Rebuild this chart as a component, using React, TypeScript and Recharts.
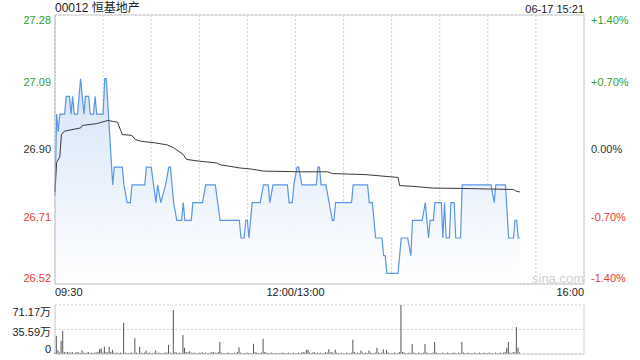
import {
  ComposedChart,
  Area,
  Line,
  XAxis,
  YAxis,
  CartesianGrid,
  ReferenceLine,
  BarChart,
  Bar,
} from "recharts";

// minutes after 09:30 (lunch break removed), 330 = 16:00
const gridMinutes = [0, 30, 60, 90, 120, 150, 180, 210, 240, 270, 300, 330];
const timeLabels: Record<number, string> = { 0: "09:30", 150: "12:00/13:00", 330: "16:00" };

const priceTicks = [27.28, 27.09, 26.9, 26.71, 26.52];
const pctLabels = ["+1.40%", "+0.70%", "0.00%", "-0.70%", "-1.40%"];
const tickColors = ["#2ea12e", "#2ea12e", "#333333", "#e53935", "#e53935"];

// price polyline vertices
const priceMinutes = [
  0, 1, 2, 3, 6, 7, 9, 10, 11, 12, 14, 15, 16, 17, 18, 19, 21, 22, 24, 25, 26, 30, 31, 32,
  36, 37, 42, 43, 45, 47, 48, 56, 57, 60, 63, 64, 66, 69, 71, 72, 74, 76, 79, 80, 81, 85,
  86, 92, 94, 100, 103, 115, 116, 118, 119, 120, 121, 123, 128, 130, 133, 134, 136, 145,
  146, 148, 149, 151, 152, 154, 163, 164, 165, 166, 169, 171, 173, 174, 175, 185, 186, 195,
  196, 198, 200, 204, 205, 206, 207, 214, 216, 220, 222, 223, 229, 231, 233, 234, 236, 237,
  241, 242, 243, 244, 246, 247, 249, 250, 253, 254, 272, 274, 275, 281, 283, 286, 287, 288,
  289, 290,
];
const prices = [
  26.77, 27.0, 26.95, 27.0, 27.0, 27.05, 27.05, 27.0, 27.05, 27.0, 27.0, 27.05, 27.1, 27.05,
  27.0, 27.05, 27.05, 27.0, 27.0, 27.05, 27.0, 27.0, 27.1, 27.1, 26.8, 26.85, 26.85, 26.8,
  26.75, 26.75, 26.8, 26.8, 26.85, 26.85, 26.75, 26.8, 26.75, 26.8, 26.85, 26.85, 26.75,
  26.7, 26.7, 26.75, 26.7, 26.7, 26.75, 26.75, 26.8, 26.8, 26.7, 26.7, 26.65, 26.65, 26.7,
  26.7, 26.65, 26.75, 26.75, 26.8, 26.8, 26.75, 26.8, 26.8, 26.75, 26.75, 26.8, 26.85, 26.85,
  26.8, 26.8, 26.85, 26.85, 26.8, 26.8, 26.75, 26.7, 26.7, 26.75, 26.75, 26.8, 26.8, 26.75,
  26.75, 26.65, 26.65, 26.6, 26.6, 26.55, 26.55, 26.65, 26.65, 26.6, 26.7, 26.7, 26.75,
  26.65, 26.7, 26.7, 26.75, 26.75, 26.65, 26.75, 26.65, 26.65, 26.75, 26.75, 26.65, 26.65,
  26.8, 26.8, 26.75, 26.8, 26.8, 26.65, 26.65, 26.7, 26.7, 26.65, 26.65,
];

// average price vertices
const avgMinutes = [
  0, 1, 3, 4, 6, 16, 17, 26, 33, 39, 42, 48, 50, 54, 62, 70, 74, 80, 82, 90, 101, 103, 115,
  122, 130, 153, 170, 173, 194, 209, 214, 215, 223, 236, 253, 286, 288, 290,
];
const avgPrices = [
  26.78, 26.863, 26.88, 26.942, 26.952, 26.961, 26.968, 26.973, 26.982, 26.977, 26.942,
  26.94, 26.928, 26.923, 26.919, 26.913, 26.905, 26.886, 26.872, 26.867, 26.862, 26.857,
  26.848, 26.845, 26.839, 26.837, 26.837, 26.832, 26.829, 26.823, 26.821, 26.798, 26.796,
  26.791, 26.79, 26.787, 26.782, 26.78,
];

// volume per minute, in 万
const volumes = [
  2.5, 26.6, 5, 2, 18.9, 33.8, 3, 2, 3, 2,
  2, 3, 1.5, 2, 3, 2, 1.5, 5, 2, 1.5,
  2, 3, 1.5, 2, 1.5, 2, 2, 3, 7.3, 8.2,
  2, 10.7, 3, 2, 10.7, 3, 6, 2, 1.5, 2,
  1.5, 2, 1.5, 45.5, 2, 1.5, 1, 1.5, 2, 1.5,
  22.8, 2, 1.5, 10.7, 2, 1.5, 2, 5, 1.5, 2,
  1.5, 1, 2, 5, 1.5, 2, 1.5, 1, 1.5, 2,
  2, 13, 2, 1.5, 63.9, 3, 2, 1.5, 2, 1.5,
  27.6, 9, 3, 2, 4, 2, 1.5, 2, 1.5, 1,
  2, 1.5, 3, 1.5, 2, 1.5, 1, 2, 2.5, 3,
  2, 1.5, 3, 17.4, 2, 1.5, 1, 1.5, 2, 1,
  1.5, 1, 2, 1.5, 3, 9.7, 2, 1.5, 1, 1.5,
  2, 1.5, 1, 1.5, 15, 3, 2, 1.5, 1, 2,
  22.2, 3, 2, 1.5, 1, 2, 1.5, 1, 1.5, 1,
  1.5, 1, 2, 1.5, 1, 1.5, 2, 1, 1.5, 2,
  1.5, 1, 2, 1.5, 2, 3, 2, 6, 6, 2,
  1.5, 2, 3, 1.5, 2, 1.5, 2, 1, 1.5, 3,
  2, 7, 2, 3, 1.5, 6, 2, 1.5, 1, 2,
  1.5, 1, 2, 1.5, 1, 2, 20.8, 3, 1.5, 2,
  1.5, 5, 2, 1.5, 2, 1.5, 5, 2, 1.5, 1,
  2, 9, 2, 1.5, 2, 7, 1.5, 6, 2, 1.5,
  1, 1.5, 2, 1, 1.5, 3, 71.17, 3, 2, 1.5,
  1, 2, 1.5, 14.5, 2, 1.5, 1, 2, 1.5, 1,
  2, 14.5, 2, 1.5, 1, 1.5, 2, 17.4, 2, 1.5,
  1, 1.5, 2, 1.5, 1, 2, 1.5, 1, 1.5, 2,
  1.5, 1, 2, 1.5, 17.4, 2, 1.5, 1, 2, 1.5,
  1, 1.5, 2, 1, 1.5, 2, 1.5, 1, 2, 1.5,
  1, 2, 1.5, 1, 1.5, 2, 1.5, 1, 2, 1.5,
  2, 3, 9.2, 17.4, 2, 1.5, 3, 2, 39.2, 9,
  2,
];
const volTicks = [0, 35.59, 71.17];
const volLabels = ["0", "35.59万", "71.17万"];

const priceData = priceMinutes.map((t, i) => ({ t, p: prices[i] }));
const avgData = avgMinutes.map((t, i) => ({ t, a: avgPrices[i] }));
const volData = volumes.map((v, t) => ({ t, v }));

const FONT = '"Liberation Sans", Arial, "Noto Sans CJK SC", sans-serif';

function tickIndex(v: number) {
  return priceTicks.findIndex((p) => Math.abs(p - v) < 0.001);
}

function shiftFor(i: number, n: number) {
  if (i === 0) return 5;
  if (i === n - 1) return -6;
  return 0;
}

function LeftTick(props: any) {
  const i = tickIndex(props.payload.value);
  return (
    <text x={props.x} y={props.y + shiftFor(i, priceTicks.length)} dy="0.35em" textAnchor="end" fontSize={11} fill={tickColors[i]}>
      {props.payload.value.toFixed(2)}
    </text>
  );
}

function RightTick(props: any) {
  const i = tickIndex(props.payload.value);
  return (
    <text x={props.x} y={props.y + shiftFor(i, priceTicks.length)} dy="0.35em" textAnchor="start" fontSize={11} fill={tickColors[i]}>
      {pctLabels[i]}
    </text>
  );
}

function TimeTick(props: any) {
  const v = props.payload.value;
  const label = timeLabels[v];
  if (!label) return null;
  const anchor = v === 0 ? "start" : v === 330 ? "end" : "middle";
  return (
    <text x={props.x} y={props.y} dy="0.71em" textAnchor={anchor} fontSize={11} fill="#222">
      {label}
    </text>
  );
}

function VolTick(props: any) {
  const i = volTicks.findIndex((p) => Math.abs(p - props.payload.value) < 0.001);
  const shift = i === 2 ? 7 : i === 0 ? -5 : 3;
  return (
    <text x={props.x} y={props.y + shift} dy="0.35em" textAnchor="end" fontSize={11} fill="#222">
      {volLabels[i]}
    </text>
  );
}

export default function App() {
  return (
    <div style={{ position: "absolute", left: 0, top: 0, width: 640, height: 360, background: "#fff", fontFamily: FONT }}>
      <div style={{ position: "absolute", left: 55, top: 0, fontSize: 12, color: "#222", lineHeight: "16px" }}>
        00012 恒基地产
      </div>
      <div style={{ position: "absolute", right: 56, top: 1, fontSize: 11, color: "#222", lineHeight: "16px" }}>
        06-17 15:21
      </div>
      <div style={{ position: "absolute", left: 0, top: 0 }}>
        <ComposedChart width={640} height={300} margin={{ top: 15, right: 0, bottom: 0, left: 0 }}>
          <defs>
            <linearGradient id="pfill" x1="0" y1="0" x2="0" y2="1">
              <stop offset="0%" stopColor="#d3e2f8" stopOpacity={0.95} />
              <stop offset="100%" stopColor="#ffffff" stopOpacity={0.9} />
            </linearGradient>
          </defs>
          <CartesianGrid stroke="#cfcfcf" strokeDasharray="2 2" />
          <XAxis
            dataKey="t"
            type="number"
            domain={[0, 330]}
            ticks={gridMinutes}
            interval={0}
            height={16}
            tickLine={false}
            tickSize={0}
            tickMargin={4}
            axisLine={{ stroke: "#c4c4c4" }}
            tick={<TimeTick />}
          />
          <YAxis
            yAxisId="p"
            type="number"
            domain={[26.52, 27.28]}
            ticks={priceTicks}
            interval={0}
            width={55}
            tickLine={false}
            tickSize={0}
            tickMargin={4}
            axisLine={{ stroke: "#b8b8b8" }}
            tick={<LeftTick />}
          />
          <YAxis
            yAxisId="r"
            orientation="right"
            type="number"
            domain={[26.52, 27.28]}
            ticks={priceTicks}
            interval={0}
            width={56}
            tickLine={false}
            tickSize={0}
            tickMargin={7}
            axisLine={{ stroke: "#d0d0d0" }}
            tick={<RightTick />}
          />
          <ReferenceLine yAxisId="p" y={27.28} stroke="#d0d0d0" />
          <Area
            yAxisId="p"
            data={priceData}
            dataKey="p"
            type="linear"
            stroke="#5b95e6"
            strokeWidth={1.2}
            fill="url(#pfill)"
            fillOpacity={1}
            dot={false}
            activeDot={false}
            isAnimationActive={false}
          />
          <Line
            yAxisId="r"
            data={avgData}
            dataKey="a"
            type="linear"
            stroke="#3a3a3a"
            strokeWidth={1}
            dot={false}
            activeDot={false}
            isAnimationActive={false}
          />
        </ComposedChart>
      </div>
      <div style={{ position: "absolute", left: 532, top: 271, fontSize: 13, color: "#d2d2d2" }}>sina.com</div>
      <div style={{ position: "absolute", left: 0, top: 300 }}>
        <BarChart width={640} height={60} data={volData} margin={{ top: 5, right: 56, bottom: 6, left: 0 }}>
          <CartesianGrid stroke="#cfcfcf" strokeDasharray="2 2" vertical={false} />
          <XAxis dataKey="t" type="number" domain={[0, 330]} hide />
          <YAxis
            type="number"
            domain={[0, 71.17]}
            ticks={volTicks}
            interval={0}
            width={55}
            tickLine={false}
            tickSize={0}
            tickMargin={4}
            axisLine={{ stroke: "#c4c4c4" }}
            tick={<VolTick />}
          />
          <ReferenceLine x={330} stroke="#d0d0d0" />
          <ReferenceLine y={0} stroke="#d0d0d0" />
          <Bar dataKey="v" fill="#555555" barSize={1} isAnimationActive={false} />
        </BarChart>
      </div>
    </div>
  );
}
